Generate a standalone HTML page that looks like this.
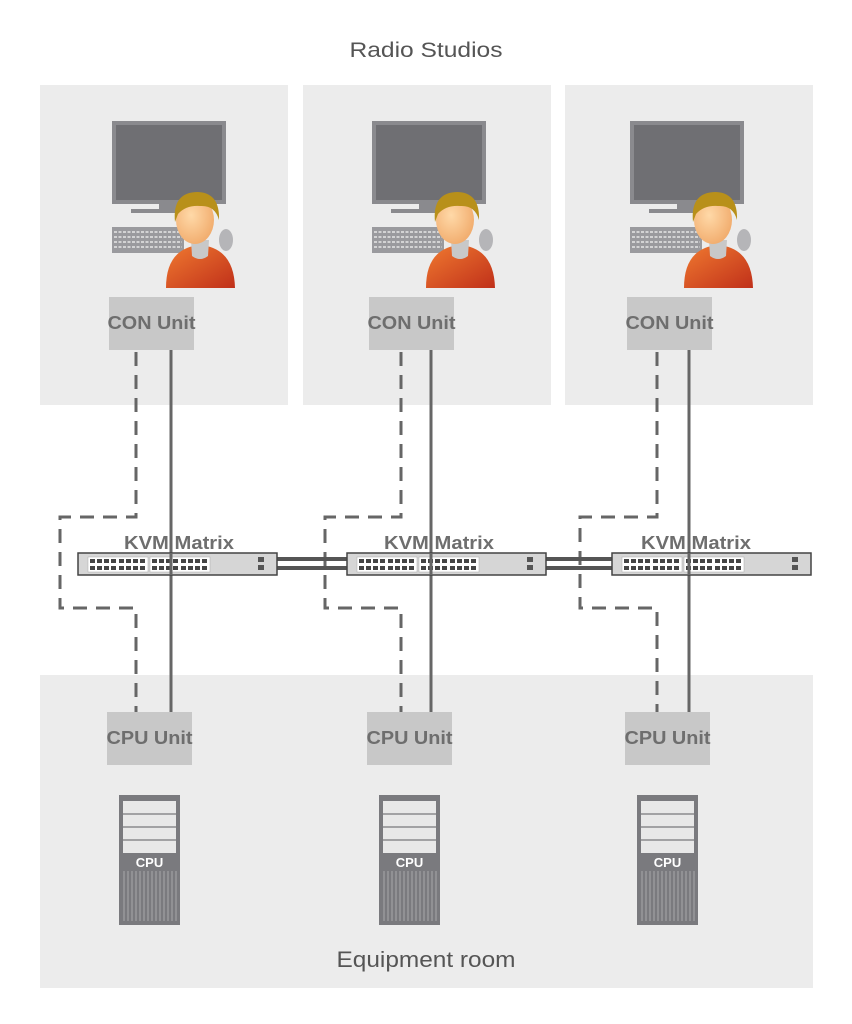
<!DOCTYPE html>
<html><head><meta charset="utf-8"><style>html,body{margin:0;padding:0;background:#fff}svg{display:block}</style></head>
<body>
<svg width="852" height="1024" viewBox="0 0 852 1024" xmlns="http://www.w3.org/2000/svg">
<defs>
<linearGradient id="shirt" x1="0" y1="0" x2="1" y2="1"><stop offset="0" stop-color="#f07a30"/><stop offset="1" stop-color="#c0301a"/></linearGradient>
<radialGradient id="face" cx="0.4" cy="0.4" r="0.7"><stop offset="0" stop-color="#ffd9a8"/><stop offset="1" stop-color="#f0a868"/></radialGradient>
<g id="ports">
  <rect x="0" y="0" width="60" height="15" fill="#fff" stroke="#aaa" stroke-width="0.5"/>
  <g fill="#444">
    <rect x="2" y="2" width="5" height="4"/><rect x="9" y="2" width="5" height="4"/><rect x="16" y="2" width="5" height="4"/><rect x="23" y="2" width="5" height="4"/><rect x="31" y="2" width="5" height="4"/><rect x="38" y="2" width="5" height="4"/><rect x="45" y="2" width="5" height="4"/><rect x="52" y="2" width="5" height="4"/>
    <rect x="2" y="9" width="5" height="4"/><rect x="9" y="9" width="5" height="4"/><rect x="16" y="9" width="5" height="4"/><rect x="23" y="9" width="5" height="4"/><rect x="31" y="9" width="5" height="4"/><rect x="38" y="9" width="5" height="4"/><rect x="45" y="9" width="5" height="4"/><rect x="52" y="9" width="5" height="4"/>
  </g>
</g>
<g id="matrix">
  <rect x="0" y="553" width="199" height="22" fill="#d6d6d6" stroke="#444" stroke-width="1.5"/>
  <use href="#ports" x="10" y="557"/>
  <use href="#ports" x="72" y="557"/>
  <rect x="180" y="557" width="6" height="5" fill="#555"/><rect x="180" y="565" width="6" height="5" fill="#555"/>
</g>
<g id="col">
  <rect x="112" y="121" width="114" height="83" fill="#8a8a8e"/>
  <rect x="116" y="125" width="106" height="75" fill="#6f6f73"/>
  <rect x="159" y="204" width="20" height="6" fill="#8a8a8e"/>
  <rect x="131" y="209" width="60" height="4" fill="#8a8a8e"/>
  <rect x="112" y="227" width="72" height="26" fill="#9a9a9e"/>
  <g stroke="#e6e6e6" stroke-width="1.5" stroke-dasharray="3 1.5">
    <line x1="114" y1="232" x2="182" y2="232"/><line x1="114" y1="237" x2="182" y2="237"/><line x1="114" y1="242" x2="182" y2="242"/><line x1="114" y1="247" x2="182" y2="247"/>
  </g>
  <ellipse cx="226" cy="240" rx="7" ry="11" fill="#b5b5b8"/>
  <path d="M166 288 Q166 248 200 245 Q234 248 235 288 Z" fill="url(#shirt)"/>
  <path d="M191 240 L209 240 L208 256 Q200 262 192 256 Z" fill="#c8c8c8"/>
  <ellipse cx="195" cy="220" rx="19" ry="24" fill="url(#face)"/>
  <path d="M175 222 Q172 192 198 192 Q220 193 219 220 Q215 205 200 206 Q186 205 178 214 Z" fill="#b8901a"/>
  <rect x="109" y="297" width="85" height="53" fill="#c8c8c8"/>
  <text x="151.5" y="329" text-anchor="middle" font-family="Liberation Sans, sans-serif" font-weight="bold" font-size="18" fill="#6e6e6e" textLength="88" lengthAdjust="spacingAndGlyphs">CON Unit</text>
  <line x1="171" y1="350" x2="171" y2="712" stroke="#666" stroke-width="3"/>
  <rect x="107" y="712" width="85" height="53" fill="#c8c8c8"/>
  <text x="149.5" y="744" text-anchor="middle" font-family="Liberation Sans, sans-serif" font-weight="bold" font-size="18" fill="#6e6e6e" textLength="86" lengthAdjust="spacingAndGlyphs">CPU Unit</text>
  <rect x="119" y="795" width="61" height="130" fill="#7a7a7e"/>
  <rect x="123" y="801" width="53" height="52" fill="#e8e8e8"/>
  <g stroke="#8a8a8e" stroke-width="1.5"><line x1="123" y1="814" x2="176" y2="814"/><line x1="123" y1="827" x2="176" y2="827"/><line x1="123" y1="840" x2="176" y2="840"/></g>
  <text x="149.5" y="867" text-anchor="middle" font-family="Liberation Sans, sans-serif" font-weight="bold" font-size="13" fill="#fff">CPU</text>
  <g stroke="#a8a8ab" stroke-width="1"><line x1="124" y1="871" x2="124" y2="921"/><line x1="128" y1="871" x2="128" y2="921"/><line x1="132" y1="871" x2="132" y2="921"/><line x1="136" y1="871" x2="136" y2="921"/><line x1="140" y1="871" x2="140" y2="921"/><line x1="144" y1="871" x2="144" y2="921"/><line x1="148" y1="871" x2="148" y2="921"/><line x1="152" y1="871" x2="152" y2="921"/><line x1="156" y1="871" x2="156" y2="921"/><line x1="160" y1="871" x2="160" y2="921"/><line x1="164" y1="871" x2="164" y2="921"/><line x1="168" y1="871" x2="168" y2="921"/><line x1="172" y1="871" x2="172" y2="921"/><line x1="176" y1="871" x2="176" y2="921"/></g>
</g>
</defs>
<rect width="852" height="1024" fill="#fff"/>
<text x="426" y="57" text-anchor="middle" font-family="Liberation Sans, sans-serif" font-size="21" fill="#555" textLength="153" lengthAdjust="spacingAndGlyphs">Radio Studios</text>
<rect x="40" y="85" width="248" height="320" fill="#ececec"/>
<rect x="303" y="85" width="248" height="320" fill="#ececec"/>
<rect x="565" y="85" width="248" height="320" fill="#ececec"/>
<rect x="40" y="675" width="773" height="313" fill="#ececec"/>
<text x="426" y="967" text-anchor="middle" font-family="Liberation Sans, sans-serif" font-size="22" fill="#555" textLength="179" lengthAdjust="spacingAndGlyphs">Equipment room</text>
<g fill="none" stroke="#666" stroke-width="3" stroke-dasharray="14 9">
  <path d="M136 352 L136 517 L60 517 L60 608 L136 608 L136 712"/>
  <path d="M401 352 L401 517 L325 517 L325 608 L401 608 L401 712"/>
  <path d="M657 352 L657 517 L580 517 L580 608 L657 608 L657 712"/>
</g>
<g stroke="#555" stroke-width="4">
  <line x1="277" y1="559" x2="347" y2="559"/><line x1="277" y1="568" x2="347" y2="568"/>
  <line x1="546" y1="559" x2="612" y2="559"/><line x1="546" y1="568" x2="612" y2="568"/>
</g>
<use href="#col" x="0" y="0"/>
<use href="#col" x="260" y="0"/>
<use href="#col" x="518" y="0"/>
<use href="#matrix" x="78" y="0"/>
<use href="#matrix" x="347" y="0"/>
<use href="#matrix" x="612" y="0"/>
<g stroke="#666" stroke-width="3">
  <line x1="171" y1="553" x2="171" y2="575"/><line x1="431" y1="553" x2="431" y2="575"/><line x1="689" y1="553" x2="689" y2="575"/>
</g>
<g font-family="Liberation Sans, sans-serif" font-weight="bold" font-size="18" fill="#6e6e6e" text-anchor="middle">
  <text x="179" y="549" textLength="110" lengthAdjust="spacingAndGlyphs">KVM Matrix</text>
  <text x="439" y="549" textLength="110" lengthAdjust="spacingAndGlyphs">KVM Matrix</text>
  <text x="696" y="549" textLength="110" lengthAdjust="spacingAndGlyphs">KVM Matrix</text>
</g>
</svg>
</body></html>
